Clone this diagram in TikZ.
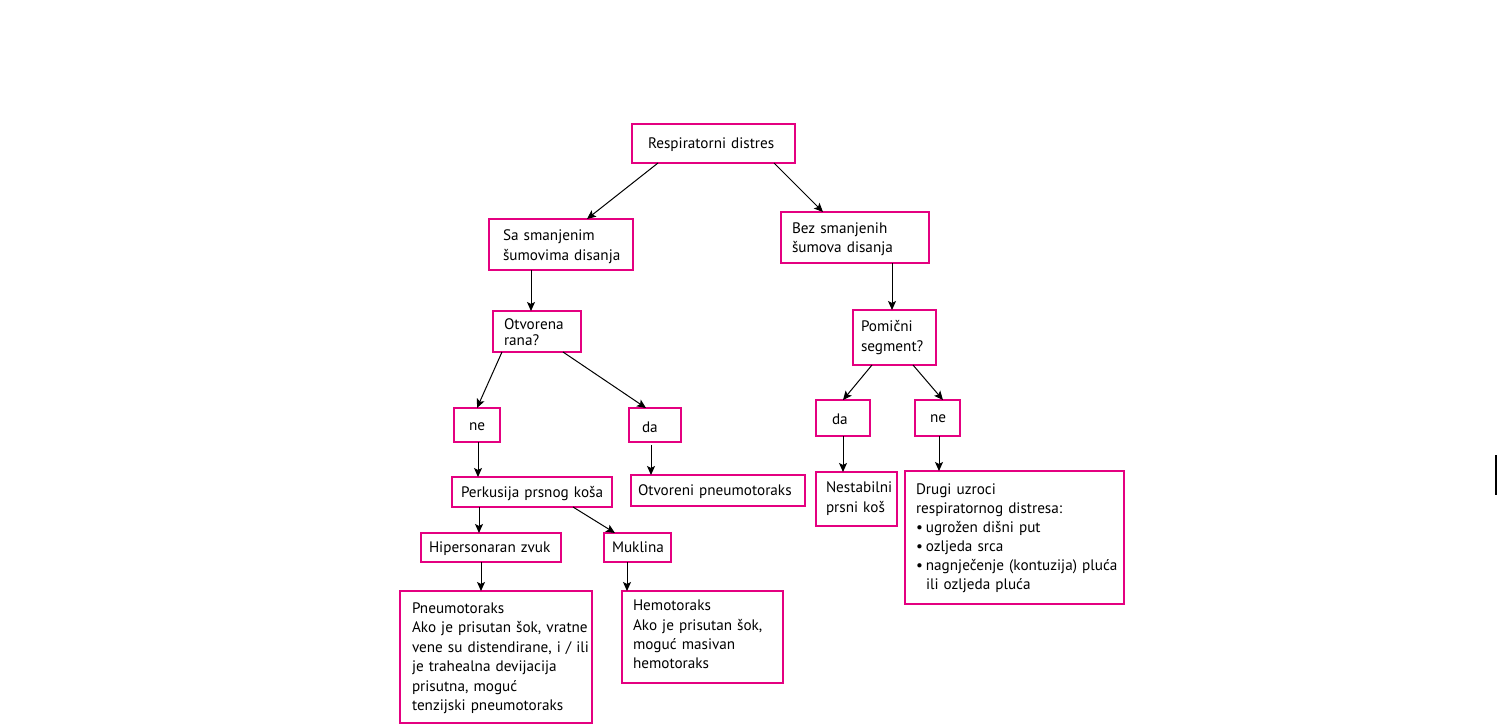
\documentclass[tikz,border=0pt]{standalone}
\usepackage{fontspec}
\setmainfont{PT Sans}
\usetikzlibrary{arrows.meta,calc}
\definecolor{pinkc}{RGB}{228,0,128}
\tikzset{
 box/.style={draw=pinkc, line width=1.8pt, inner sep=0pt, outer sep=0pt, anchor=north west, rectangle},
 txt/.style={anchor=base west, inner sep=0pt, outer sep=0pt, align=left, text width=#1, font=\fontsize{15.2}{19.4}\selectfont},
 txt/.default=220pt,
 arr/.style={draw=black, line width=1pt, -{Stealth[length=9pt,width=8pt,inset=2pt]}},
}
\begin{document}
\begin{tikzpicture}[x=1pt,y=-1pt]
\useasboundingbox (0,0) rectangle (1497,725);
% boxes
\node[box, minimum width=163, minimum height=39] (resp) at (632,124) {};
\node[box, minimum width=144, minimum height=51] (sa) at (489,219) {};
\node[box, minimum width=148, minimum height=51] (bez) at (781,212) {};
\node[box, minimum width=88, minimum height=41] (otv) at (493,311) {};
\node[box, minimum width=83, minimum height=55] (pom) at (853,310) {};
\node[box, minimum width=46, minimum height=34] (ne1) at (454,408) {};
\node[box, minimum width=52, minimum height=34] (da1) at (629,408) {};
\node[box, minimum width=54, minimum height=36] (da2) at (816,400) {};
\node[box, minimum width=45, minimum height=36] (ne2) at (915,400) {};
\node[box, minimum width=160, minimum height=30] (perk) at (452,477) {};
\node[box, minimum width=174, minimum height=31] (otvp) at (631,475) {};
\node[box, minimum width=81, minimum height=54] (nest) at (816,472) {};
\node[box, minimum width=219, minimum height=133] (drugi) at (905,471) {};
\node[box, minimum width=140, minimum height=29] (hiper) at (421,533) {};
\node[box, minimum width=67, minimum height=29] (muk) at (604,533) {};
\node[box, minimum width=192, minimum height=132] (pneumo) at (400,591) {};
\node[box, minimum width=161, minimum height=92] (hemo) at (622,591) {};
% texts
\node[txt] (tresp) at (648,148) {Respiratorni distres};
\node[txt] (tsa) at (503,240.7) {Sa smanjenim\\šumovima disanja};
\node[txt] (tbez) at (792,233.3) {Bez smanjenih\\šumova disanja};
\node[txt, font=\fontsize{15.2}{16}\selectfont] (totv) at (504,329) {Otvorena\\rana?};
\node[txt, font=\fontsize{15.2}{20}\selectfont] (tpom) at (861,331.7) {Pomični\\segment?};
\node[txt] (tne1) at (469,430) {ne};
\node[txt] (tda1) at (642,432) {da};
\node[txt] (tda2) at (832,424) {da};
\node[txt] (tne2) at (930,422) {ne};
\node[txt] (tperk) at (461,497) {Perkusija prsnog koša};
\node[txt] (totvp) at (638,495) {Otvoreni pneumotoraks};
\node[txt, font=\fontsize{15.2}{19.6}\selectfont] (tnest) at (826,492.7) {Nestabilni\\prsni koš};
\node[txt, font=\fontsize{15.2}{19.1}\selectfont] (tdrugi) at (916,494) {Drugi uzroci\\respiratornog distresa:\\•\hspace{3pt}ugrožen dišni put\\•\hspace{3pt}ozljeda srca\\•\hspace{3pt}nagnječenje (kontuzija) pluća\\\hspace*{10pt}ili ozljeda pluća};
\node[txt] (thiper) at (429,552) {Hipersonaran zvuk};
\node[txt] (tmuk) at (612,552) {Muklina};
\node[txt, font=\fontsize{15.2}{19.5}\selectfont] (tpneumo) at (412,613.3) {Pneumotoraks\\Ako je prisutan šok, vratne\\vene su distendirane, i / ili\\je trahealna devijacija\\prisutna, moguć\\tenzijski pneumotoraks};
\node[txt] (themo) at (633,610.7) {Hemotoraks\\Ako je prisutan šok,\\moguć masivan\\hemotoraks};
% connectors
\draw[arr] ([xshift=26pt]resp.south west) -- ([xshift=98pt]sa.north west);
\draw[arr] ([xshift=142pt]resp.south west) -- ([xshift=42pt]bez.north west);
\draw[arr] ([xshift=42pt]sa.south west) -- ([xshift=38pt]otv.north west);
\draw[arr] ([xshift=111pt]bez.south west) -- ([xshift=39pt]pom.north west);
\draw[arr] ([xshift=9pt]otv.south west) -- ([xshift=23pt]ne1.north west);
\draw[arr] ([xshift=70pt]otv.south west) -- ([xshift=17pt]da1.north west);
\draw[arr] ([xshift=24pt]ne1.south west) -- ([xshift=26pt]perk.north west);
\draw[arr] ([xshift=22pt,yshift=-3pt]da1.south west) -- ([xshift=20pt]otvp.north west);
\draw[arr] ([xshift=19pt]pom.south west) -- ([xshift=27pt]da2.north west);
\draw[arr] ([xshift=60pt]pom.south west) -- ([xshift=28pt]ne2.north west);
\draw[arr] ([xshift=27pt]da2.south west) -- ([xshift=27pt]nest.north west);
\draw[arr] ([xshift=24pt]ne2.south west) -- ([xshift=34pt]drugi.north west);
\draw[arr] ([xshift=27pt]perk.south west) -- ([xshift=58pt]hiper.north west);
\draw[arr] ([xshift=121pt]perk.south west) -- ([xshift=11pt]muk.north west);
\draw[arr] ([xshift=60pt]hiper.south west) -- ([xshift=81pt]pneumo.north west);
\draw[arr] ([xshift=23pt]muk.south west) -- ([xshift=5pt]hemo.north west);
% stray mark
\coordinate (m1) at (1496,455);
\coordinate (m2) at (1496,495);
\draw[line width=1.5pt] (m1) -- (m2);
\end{tikzpicture}
\end{document}
